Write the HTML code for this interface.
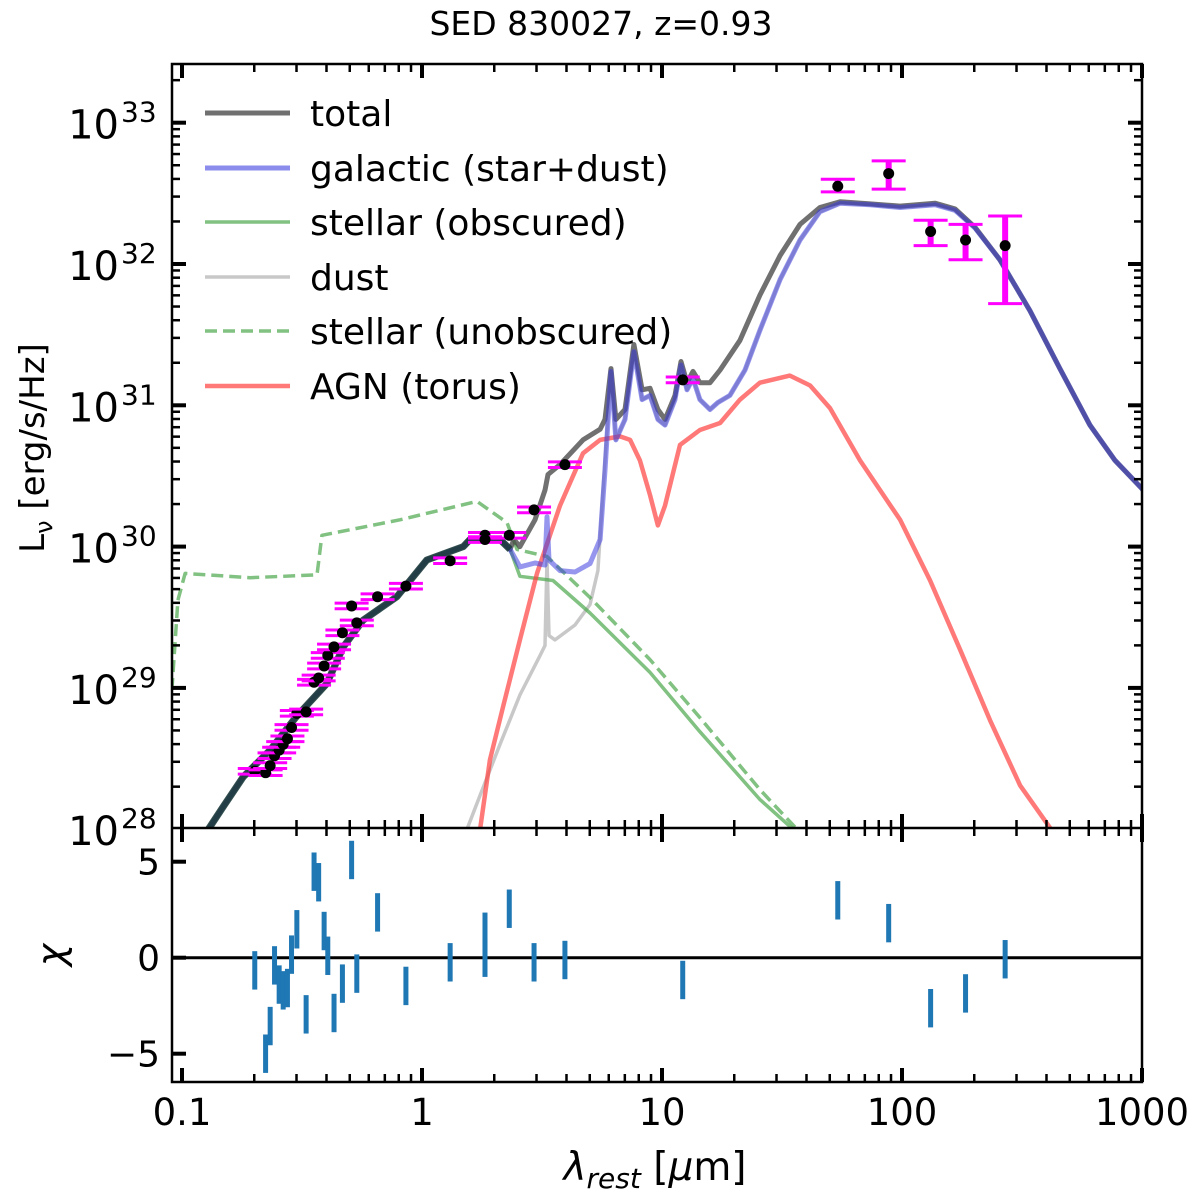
<!DOCTYPE html>
<html><head><meta charset="utf-8"><style>
html,body{margin:0;padding:0;background:#fff;}
svg{display:block;font-family:"DejaVu Sans","Liberation Sans",sans-serif;}
</style></head><body>
<svg id="chart" width="1200" height="1198" viewBox="0 0 1200 1198" xmlns="http://www.w3.org/2000/svg">
<defs>
<clipPath id="clipMain"><rect x="172" y="64" width="970" height="764"/></clipPath>
<clipPath id="clipChi"><rect x="172" y="828" width="970" height="254"/></clipPath>
</defs>
<text x="601" y="35" font-size="33" text-anchor="middle">SED 830027, z=0.93</text>
<g id="main"></g>
<g id="chi"></g>
<g id="axes"></g>
<text transform="translate(44,448) rotate(-90)" font-size="34" text-anchor="middle">L<tspan font-size="24" dy="8">ν</tspan><tspan dy="-8"> [erg/s/Hz]</tspan></text>
<text x="0" y="0" font-size="38" text-anchor="middle" font-style="italic" transform="translate(64,955) rotate(-90)">χ</text>
<text x="655" y="1180" font-size="39" text-anchor="middle"><tspan font-style="italic">λ</tspan><tspan font-size="28" dy="8" font-style="italic">rest</tspan><tspan dy="-8"> [</tspan><tspan font-style="italic">μ</tspan><tspan>m]</tspan></text>
<g font-size="36">
<g><line x1="205" x2="290" y1="113" y2="113" stroke="#404040" stroke-opacity="0.75" stroke-width="5"/><text x="310" y="126">total</text></g>
<g><line x1="205" x2="290" y1="168" y2="168" stroke="#4040e0" stroke-opacity="0.6" stroke-width="5"/><text x="310" y="181">galactic (star+dust)</text></g>
<g><line x1="205" x2="290" y1="222" y2="222" stroke="#4ca64c" stroke-opacity="0.7" stroke-width="3.5"/><text x="310" y="235">stellar (obscured)</text></g>
<g><line x1="205" x2="290" y1="277" y2="277" stroke="#b0b0b0" stroke-opacity="0.7" stroke-width="3.5"/><text x="310" y="290">dust</text></g>
<g><line x1="205" x2="290" y1="331" y2="331" stroke="#4ca64c" stroke-opacity="0.7" stroke-width="3.5" stroke-dasharray="12,6"/><text x="310" y="344">stellar (unobscured)</text></g>
<g><line x1="205" x2="290" y1="386" y2="386" stroke="#ff4040" stroke-opacity="0.7" stroke-width="4.5"/><text x="310" y="399">AGN (torus)</text></g>
</g>
</svg>
<script>
// ---------- DATA ----------
const obsLambda = [0.201,0.223,0.233,0.243,0.254,0.264,0.275,0.286,0.301,0.329,0.355,0.371,0.391,0.405,0.430,0.466,0.535,0.509,0.653,0.857,1.31,1.83,1.83,2.31,2.93,3.94,12.2,54,88,131.6,184,269];
const obsLogL = [28.41,28.40,28.45,28.52,28.56,28.60,28.64,28.72,28.82,28.83,29.04,29.07,29.155,29.23,29.29,29.39,29.46,29.58,29.645,29.72,29.90,30.08,30.05,30.08,30.26,30.58,31.18,32.55,32.64,32.23,32.17,32.13];
const obsErrHi = [0.02,0.02,0.02,0.02,0.02,0.02,0.02,0.02,0.02,0.02,0.02,0.02,0.02,0.02,0.02,0.02,0.02,0.02,0.02,0.02,0.02,0.02,0.02,0.02,0.02,0.02,0.02,0.05,0.09,0.08,0.11,0.21];
const obsErrLo = [0.02,0.02,0.02,0.02,0.02,0.02,0.02,0.02,0.02,0.02,0.02,0.02,0.02,0.02,0.02,0.02,0.02,0.02,0.02,0.02,0.02,0.02,0.02,0.02,0.02,0.02,0.02,0.04,0.11,0.10,0.14,0.41];
const chiValues = [-0.66,-5.0,-3.56,-0.4,-1.4,-1.7,-1.58,0.16,1.48,-2.95,4.48,3.93,1.39,0.1,-2.88,-1.35,-0.83,5.09,2.36,-1.47,-0.24,1.35,0.0,2.55,-0.24,-0.12,-1.16,2.99,1.8,-2.63,-1.86,-0.08];

const stellarLogLam = [-0.925,-0.890,-0.828,-0.745,-0.633,-0.522,-0.397,-0.328,-0.245,-0.105,0.020,0.172,0.2,0.325,0.367,0.408,0.546,0.70,0.95,1.158,1.408,1.546,1.6];
const stellarLogL   = [27.89,28.0,28.16,28.37,28.56,28.80,29.03,29.29,29.48,29.645,29.905,30.0,30.05,30.05,29.98,29.79,29.76,29.53,29.11,28.69,28.21,28.0,27.9];
const unobsLogLam = [-1.042,-1.017,-0.987,-0.717,-0.4375,-0.417,-0.092,0.229,0.354,0.396,0.521,0.70,0.95,1.158,1.408,1.5625,1.62];
const unobsLogL   = [28.985,29.62,29.81,29.78,29.80,30.08,30.19,30.32,30.17,29.98,29.93,29.64,29.20,28.79,28.28,28.0,27.9];
const galIRLogLam = [0.408,0.471,0.5125,0.521,0.529,0.575,0.6375,0.70,0.742,0.7625,0.7875,0.808,0.846,0.883,0.917,0.95,0.983,1.0125,1.054,1.079,1.104,1.129,1.158,1.2,1.233,1.283,1.346,1.408,1.492,1.575,1.658,1.742,1.867,1.992,2.1375,2.221,2.304,2.408,2.533,2.658,2.783,2.8875,3.0,3.05];
const galIRLogL   = [29.856,29.884,29.87,30.21,29.905,29.83,29.82,29.88,30.05,30.54,31.24,30.755,30.90,31.38,31.04,31.07,30.90,30.86,31.04,31.285,31.11,31.19,31.04,30.97,31.02,31.07,31.25,31.53,31.89,32.17,32.37,32.43,32.42,32.40,32.42,32.38,32.255,32.03,31.67,31.26,30.86,30.61,30.41,30.3];
const totIRLogLam = [0.383,0.408,0.471,0.5125,0.525,0.575,0.671,0.742,0.7625,0.7875,0.808,0.846,0.883,0.917,0.95,0.983,1.0125,1.054,1.079,1.104,1.129,1.158,1.2,1.242,1.325,1.408,1.492,1.575,1.658,1.742,1.867,1.992,2.1375,2.221,2.304,2.408,2.533,2.658,2.783,2.8875,3.0,3.05];
const totIRLogL   = [30.05,30.0,30.19,30.40,30.51,30.58,30.755,30.83,30.90,31.26,30.90,30.97,31.43,31.11,31.12,30.97,30.90,31.07,31.31,31.16,31.24,31.16,31.16,31.25,31.46,31.78,32.06,32.28,32.40,32.44,32.425,32.41,32.43,32.39,32.26,32.03,31.67,31.26,30.86,30.61,30.41,30.3];
const dustLogLam = [0.15,0.1875,0.242,0.325,0.408,0.492,0.5125,0.521,0.529,0.554,0.6375,0.70,0.733,0.754,0.7875,0.808,0.846,0.883,0.917,0.95,0.983,1.0125,1.054,1.079,1.104,1.129,1.158,1.2,1.233,1.283,1.346,1.408,1.492,1.575,1.658,1.742,1.867,1.992,2.1375,2.221,2.304,2.408,2.533,2.658,2.783,2.8875,3.0,3.05];
const dustLogL   = [27.7,28.0,28.24,28.60,28.95,29.23,29.30,29.905,29.37,29.34,29.445,29.59,29.83,30.40,31.24,30.755,30.90,31.38,31.04,31.07,30.90,30.86,31.04,31.285,31.11,31.19,31.04,30.97,31.02,31.07,31.25,31.53,31.89,32.17,32.37,32.43,32.42,32.40,32.42,32.38,32.255,32.03,31.67,31.26,30.86,30.61,30.41,30.3];
const agnLogLam = [0.22,0.242,0.283,0.3375,0.408,0.479,0.575,0.671,0.742,0.825,0.867,0.908,0.95,0.983,1.0125,1.075,1.158,1.242,1.325,1.408,1.533,1.617,1.7,1.825,1.992,2.117,2.242,2.367,2.492,2.625,2.66];
const agnLogL   = [27.8,28.0,28.49,28.865,29.34,29.81,30.29,30.66,30.755,30.78,30.755,30.61,30.365,30.15,30.29,30.72,30.825,30.875,31.04,31.16,31.21,31.14,30.98,30.61,30.19,29.76,29.27,28.77,28.31,27.99,27.8];

const xTickLabels = ["0.1","1","10","100","1000"];
const yTickExps = [28,29,30,31,32,33];
const chiTicks = [5,0,-5];
const chiTickLabels = ["5","0","\u22125"];

// ---------- SCALES ----------
const NS = "http://www.w3.org/2000/svg";
const X = lg => 902 + 240*(lg-2);
const Y = lgL => 264 - 141.3*(lgL-32);
const YC = c => 957.7 - 19.2*c;
const L = 172, R = 1142, T = 64, MB = 828, B = 1082;
function mk(tag, attrs, parent){
  const e = document.createElementNS(NS, tag);
  for (const k in attrs) e.setAttribute(k, attrs[k]);
  parent.appendChild(e); return e;
}
const main = document.getElementById('main');
const chi = document.getElementById('chi');
const axes = document.getElementById('axes');
const gm = mk('g', {'clip-path':'url(#clipMain)'}, main);
const gc = mk('g', {'clip-path':'url(#clipChi)'}, chi);

function pathFrom(lams, lgs){
  return lams.map((v,i)=>(i?'L':'M')+X(v).toFixed(1)+','+Y(lgs[i]).toFixed(1)).join(' ');
}
function curve(lams, lgs, stroke, width, opacity, name, dash){
  const p = mk('path', {d:pathFrom(lams,lgs), fill:'none', stroke:stroke, 'stroke-width':width, 'stroke-opacity':opacity, 'stroke-linejoin':'round'}, gm);
  if (dash) p.setAttribute('stroke-dasharray', dash);
  
  
  return p;
}
const cut = 0.37;
const stI = stellarLogLam.map((v,i)=>i).filter(i=>stellarLogLam[i]<cut);
const galLam = stI.map(i=>stellarLogLam[i]).concat(galIRLogLam);
const galL = stI.map(i=>stellarLogL[i]).concat(galIRLogL);
const totLam = stI.map(i=>stellarLogLam[i]).concat(totIRLogLam);
const totL = stI.map(i=>stellarLogL[i]).concat(totIRLogL);

curve(dustLogLam, dustLogL, '#b0b0b0', 3.5, 0.7, 'dust-curve');
curve(unobsLogLam, unobsLogL, '#4ca64c', 3.5, 0.7, 'stellar-unobscured-curve', '12,6');
curve(stellarLogLam, stellarLogL, '#4ca64c', 3.5, 0.7, 'stellar-obscured-curve');
curve(agnLogLam, agnLogL, '#ff4040', 4.5, 0.7, 'agn-torus-curve');
curve(totLam, totL, '#404040', 5, 0.75, 'total-curve');
curve(galLam, galL, '#4040e0', 5, 0.55, 'galactic-curve');
curve(stI.map(i=>stellarLogLam[i]), stI.map(i=>stellarLogL[i]), '#1e3c3c', 7, 0.9, 'optical-model-overlap');

obsLambda.forEach((lam,i)=>{
  const lg = Math.log10(lam);
  const cx = X(lg), cy = Y(obsLogL[i]);
  const y1 = Y(obsLogL[i]+obsErrHi[i]), y2 = Y(obsLogL[i]-obsErrLo[i]);
  const g = mk('g', {}, gm);
  
  
  mk('line', {x1:cx,x2:cx,y1:y1,y2:y2,stroke:'#ff00ff','stroke-width':6}, g);
  mk('line', {x1:cx-17,x2:cx+17,y1:y1,y2:y1,stroke:'#ff00ff','stroke-width':3}, g);
  mk('line', {x1:cx-17,x2:cx+17,y1:y2,y2:y2,stroke:'#ff00ff','stroke-width':3}, g);
  mk('circle', {cx:cx,cy:cy,r:5.5,fill:'#000'}, g);
});

const zl = mk('line', {x1:L,x2:R,y1:YC(0),y2:YC(0),stroke:'#000','stroke-width':3}, gc);


chiValues.forEach((c,i)=>{
  const cx = X(Math.log10(obsLambda[i]));
  const b = mk('rect', {x:cx-2.5, y:YC(c+1), width:5, height:YC(c-1)-YC(c+1), fill:'#1f77b4'}, gc);
  
  
});

// ---------- AXES ----------
mk('rect', {x:L,y:T,width:R-L,height:B-T,fill:'none',stroke:'#000','stroke-width':2.5}, axes);
mk('line', {x1:L,x2:R,y1:MB,y2:MB,stroke:'#000','stroke-width':2.5}, axes);
function tk(x1,y1,x2,y2,w){ mk('line',{x1,y1,x2,y2,stroke:'#000','stroke-width':w},axes); }
for (let d=-2; d<=3; d++){
  for (let k=1;k<=9;k++){
    const x = X(d+Math.log10(k));
    if (x<L-0.5||x>R+0.5) continue;
    const len = k===1?14:8, w = k===1?4:2.5;
    tk(x,T,x,T+len,w); tk(x,MB,x,MB-len,w); tk(x,MB,x,MB+len,w); tk(x,B,x,B-len,w);
  }
}
for (let d=27; d<=33; d++){
  for (let k=1;k<=9;k++){
    const y = Y(d+Math.log10(k));
    if (y<T||y>MB) continue;
    const len = k===1?14:8, w = k===1?4:2.5;
    tk(L,y,L+len,y,w); tk(R,y,R-len,y,w);
  }
}
xTickLabels.forEach((s,i)=>{
  const t = mk('text',{x:X(i-1),y:1125,'font-size':37,'text-anchor':'middle'},axes);
  t.textContent = s;
  
  
});
yTickExps.forEach(e=>{
  const y = Y(e);
  const t = mk('text',{x:119,y:y+16,'font-size':40,'text-anchor':'end'},axes);
  t.textContent = '10';
  
  
  const s = mk('text',{x:121,y:y-1,'font-size':28,'text-anchor':'start'},axes);
  s.textContent = String(e);
  
  
});
chiTicks.forEach((c,i)=>{
  const y = YC(c);
  tk(L,y,L+14,y,4);
  const t = mk('text',{x:160,y:y+13,'font-size':36,'text-anchor':'end'},axes);
  t.textContent = chiTickLabels[i];
  
  
});
</script>
</body></html>
